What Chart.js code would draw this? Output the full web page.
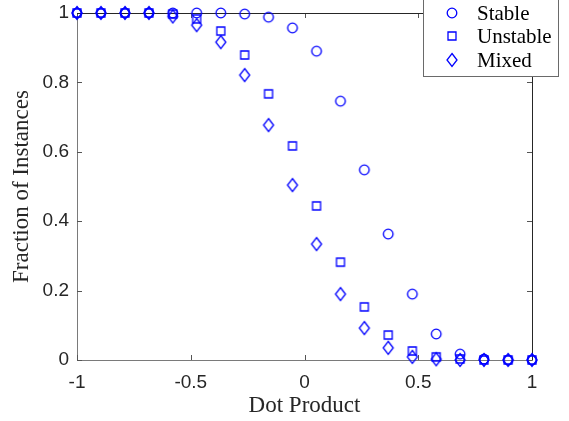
<!DOCTYPE html>
<html><head><meta charset="utf-8">
<script src="https://cdn.jsdelivr.net/npm/chart.js@4.4.1/dist/chart.umd.min.js"></script>
<style>html,body{margin:0;padding:0;background:#fff;}</style>
</head><body>
<canvas id="c" width="569" height="421"></canvas>
<script>
// ---- data ----
const dotProduct = [-1, -0.895, -0.789, -0.684, -0.579, -0.474, -0.368, -0.263, -0.158, -0.053,
                    0.053, 0.158, 0.263, 0.368, 0.474, 0.579, 0.684, 0.789, 0.895, 1];
const stable   = [1, 1, 1, 1, 1, 1, 1, 0.997, 0.988, 0.957, 0.89, 0.746, 0.548, 0.363, 0.19, 0.075, 0.017, 0.003, 0, 0];
const unstable = [1, 1, 1, 1, 0.997, 0.983, 0.948, 0.879, 0.767, 0.617, 0.444, 0.282, 0.153, 0.072, 0.026, 0.009, 0.003, 0, 0, 0];
const mixed    = [1, 1, 1, 1, 0.99, 0.965, 0.916, 0.821, 0.677, 0.504, 0.334, 0.19, 0.092, 0.035, 0.009, 0.002, 0, 0, 0, 0];
const seriesNames = ['Stable', 'Unstable', 'Mixed'];
const xTicks = [-1, -0.5, 0, 0.5, 1];
const yTicks = [0, 0.2, 0.4, 0.6, 0.8, 1];

const BLUE = '#0000ff';
function makeMarker(kind) {
  const c = document.createElement('canvas');
  c.width = 14; c.height = 16;
  const g = c.getContext('2d');
  g.strokeStyle = BLUE; g.lineWidth = 1.3;
  g.beginPath();
  if (kind === 'circle') g.arc(7, 8, 4.8, 0, Math.PI * 2);
  else if (kind === 'square') g.rect(3, 4, 8, 8);
  else { g.moveTo(7, 1.5); g.lineTo(12, 8); g.lineTo(7, 14.5); g.lineTo(2, 8); g.closePath(); }
  g.stroke();
  return c;
}
const markers = [makeMarker('circle'), makeMarker('square'), makeMarker('diamond')];
const seriesData = [stable, unstable, mixed];

const datasets = seriesNames.map((name, i) => ({
  label: name,
  data: dotProduct.map((x, j) => ({x: x, y: seriesData[i][j]})),
  pointStyle: markers[i],
  pointRadius: 6,
  pointHoverRadius: 6,
  showLine: false,
  clip: false
}));

const tickFont = {family: 'Liberation Sans, Arial, sans-serif', size: 19};
const titleFont = {family: 'Liberation Serif, Times New Roman, serif', size: 23};

const frame = {
  id: 'frame',
  beforeDatasetsDraw(chart) {
    const {ctx, chartArea: a, scales: {x, y}} = chart;
    ctx.save();
    ctx.lineWidth = 1;
    ctx.strokeStyle = '#555';
    ctx.beginPath();
    xTicks.forEach(v => {
      const px = Math.round(x.getPixelForValue(v)) + 0.5;
      ctx.moveTo(px, a.bottom); ctx.lineTo(px, a.bottom - 5);
      ctx.moveTo(px, a.top); ctx.lineTo(px, a.top + 5);
    });
    yTicks.forEach(v => {
      const py = Math.round(y.getPixelForValue(v)) + 0.5;
      ctx.moveTo(a.left, py); ctx.lineTo(a.left + 5, py);
      ctx.moveTo(a.right, py); ctx.lineTo(a.right - 5, py);
    });
    ctx.stroke();
    ctx.strokeStyle = '#262626';
    ctx.beginPath();
    ctx.moveTo(a.left, a.top + 0.5); ctx.lineTo(a.right, a.top + 0.5);
    ctx.moveTo(a.right + 0.5, a.top); ctx.lineTo(a.right + 0.5, a.bottom);
    ctx.stroke();
    ctx.restore();
  },
  afterDraw(chart) {
    const ctx = chart.ctx;
    ctx.save();
    ctx.fillStyle = '#fff';
    ctx.strokeStyle = '#6a6a6a';
    ctx.lineWidth = 1;
    ctx.fillRect(423, -2, 135, 78);
    ctx.strokeRect(423.5, -2, 135, 78.5);
    ctx.font = '21px "Liberation Serif", "Times New Roman", serif';
    ctx.fillStyle = '#000';
    ctx.textBaseline = 'middle';
    ctx.textAlign = 'left';
    const ys = [13, 36, 60];
    seriesNames.forEach((n, i) => {
      const m = markers[i];
      ctx.drawImage(m, 452 - m.width / 2, ys[i] - m.height / 2);
      ctx.fillText(n, 477, ys[i] + 1);
    });
    ctx.restore();
  }
};

new Chart(document.getElementById('c'), {
  type: 'scatter',
  data: {datasets},
  plugins: [frame],
  options: {
    responsive: false,
    animation: false,
    devicePixelRatio: 1,
    layout: {padding: {left: 0, top: 13, right: 37, bottom: 0}},
    plugins: {legend: {display: false}, tooltip: {enabled: false}},
    scales: {
      x: {
        type: 'linear', min: -1, max: 1,
        afterBuildTicks: s => { s.ticks = xTicks.map(v => ({value: v})); },
        afterFit: s => { s.height = 61; s.paddingLeft = 0; s.paddingRight = 0; },
        grid: {display: false, drawTicks: false, tickLength: 0},
        border: {display: true, color: '#7a7a7a', width: 1},
        ticks: {font: tickFont, color: '#262626', padding: 11, maxRotation: 0, autoSkip: false,
                callback: v => String(v)},
        title: {display: true, text: 'Dot Product', font: titleFont, color: '#262626', padding: {top: 0, bottom: 1}}
      },
      y: {
        type: 'linear', min: 0, max: 1,
        afterBuildTicks: s => { s.ticks = yTicks.map(v => ({value: v})); },
        afterFit: s => { s.width = 77; s.paddingTop = 0; s.paddingBottom = 0; },
        grid: {display: false, drawTicks: false, tickLength: 0},
        border: {display: true, color: '#7a7a7a', width: 1},
        ticks: {font: tickFont, color: '#262626', padding: 8, autoSkip: false,
                callback: v => String(v)},
        title: {display: true, text: 'Fraction of Instances', font: titleFont, color: '#262626', padding: {top: 8, bottom: 0}}
      }
    }
  }
});
</script>
</body></html>
